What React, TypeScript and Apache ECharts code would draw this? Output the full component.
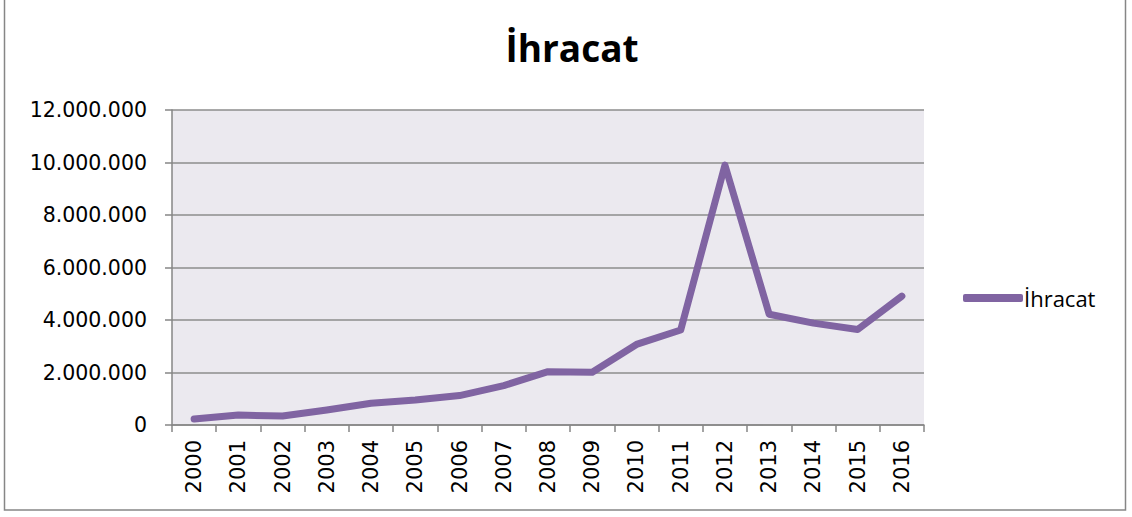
import React, { useEffect, useRef } from "react";
import * as echarts from "echarts";

const years = ["2000","2001","2002","2003","2004","2005","2006","2007","2008","2009","2010","2011","2012","2013","2014","2015","2016"];
const ihracat = [230000, 380000, 340000, 570000, 830000, 950000, 1120000, 1500000, 2030000, 2010000, 3070000, 3620000, 9900000, 4220000, 3880000, 3640000, 4910000];
const seriesName = "İhracat";

function fmt(v: number): string {
  return String(v).replace(/\B(?=(\d{3})+(?!\d))/g, ".");
}

export default function App() {
  const ref = useRef<HTMLDivElement>(null);
  useEffect(() => {
    if (!ref.current) return;
    const chart = echarts.init(ref.current, undefined, { renderer: "svg" });
    chart.setOption({
      animation: false,
      backgroundColor: "#ffffff",
      title: {
        text: seriesName,
        left: 567,
        textAlign: "center",
        top: 24,
        textStyle: { fontFamily: "Open Sans", fontWeight: "bold", fontSize: 37, color: "#000" },
      },
      graphic: [
        {
          type: "rect",
          shape: { x: 4.5, y: -5, width: 1121, height: 515 },
          style: { fill: "none", stroke: "#868686", lineWidth: 1.5 },
          z: 100,
        },
      ],
      legend: {
        data: [seriesName],
        left: 958,
        top: 282,
        itemWidth: 60,
        itemHeight: 8,
        itemGap: 0,
        icon: "roundRect",
        textStyle: { fontFamily: "Open Sans", fontSize: 22, color: "#000", padding: [0, 0, 0, -4] },
      },
      grid: {
        left: 172,
        right: 208,
        top: 110,
        bottom: 92,
        show: true,
        backgroundColor: "#EBE9EF",
        borderWidth: 0,
      },
      xAxis: {
        type: "category",
        data: years,
        boundaryGap: true,
        axisLine: { lineStyle: { color: "#868686", width: 1.5 } },
        axisTick: { show: true, length: 7, interval: 0, lineStyle: { color: "#868686", width: 1.5 } },
        axisLabel: {
          rotate: 90,
          interval: 0,
          margin: 15,
          fontFamily: "DejaVu Sans",
          fontSize: 21,
          color: "#000",
        },
      },
      yAxis: {
        type: "value",
        min: 0,
        max: 12000000,
        interval: 2000000,
        axisLine: { show: true, lineStyle: { color: "#868686", width: 1.5 } },
        axisTick: { show: true, inside: false, length: 7, lineStyle: { color: "#868686", width: 1.5 } },
        splitLine: { show: true, lineStyle: { color: "#8c8c8c", width: 1.5 } },
        axisLabel: {
          formatter: (v: number) => fmt(v),
          fontFamily: "DejaVu Sans",
          fontSize: 20.5,
          color: "#000",
          margin: 25,
        },
      },
      series: [
        {
          name: seriesName,
          type: "line",
          data: ihracat,
          symbol: "none",
          lineStyle: { color: "#8064A2", width: 7, cap: "round", join: "round" },
          itemStyle: { color: "#8064A2" },
        },
      ],
    });
    return () => chart.dispose();
  }, []);
  return <div ref={ref} style={{ position: "fixed", left: 0, top: 0, width: 1132, height: 517 }} />;
}
